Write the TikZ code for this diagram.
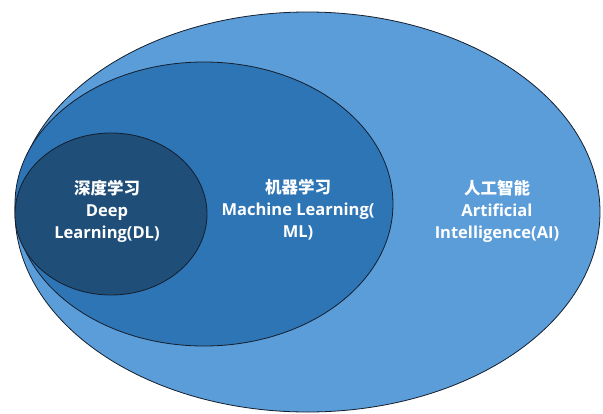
\documentclass[tikz,border=0pt]{standalone}
\usepackage{fontspec}
\setmainfont{Open Sans}
\newfontfamily\cjk{Noto Sans CJK SC}
\usetikzlibrary{shapes.geometric}
\definecolor{aiblue}{RGB}{91,157,216}
\definecolor{mlblue}{RGB}{46,117,182}
\definecolor{dlblue}{RGB}{31,78,121}
\definecolor{edge}{RGB}{20,30,45}
\tikzset{
  ring/.style={ellipse, draw=edge, line width=0.8pt, inner sep=0pt},
  lbl/.style={text=white, font=\bfseries\fontsize{16.5}{22}\selectfont, align=center}
}
\begin{document}
\begin{tikzpicture}[x=1pt,y=-1pt]
\useasboundingbox[fill=white] (0,0) rectangle (603,413);
\node[ring, fill=aiblue, minimum width=585pt, minimum height=400pt] (ai) at (307.5,212) {};
\node[ring, fill=mlblue, minimum width=378pt, minimum height=284pt] (ml) at (204,204) {};
\node[ring, fill=dlblue, minimum width=192pt, minimum height=162pt] (dl) at (111,214) {};
\node[lbl] (dlt) at (107,211) {{\cjk\bfseries 深度学习}\\Deep\\Learning(DL)};
\node[lbl] (mlt) at (298,210) {{\cjk\bfseries 机器学习}\\Machine Learning(\\ML)};
\node[lbl] (ait) at (497,211) {{\cjk\bfseries 人工智能}\\Artificial\\Intelligence(AI)};
\end{tikzpicture}
\end{document}
